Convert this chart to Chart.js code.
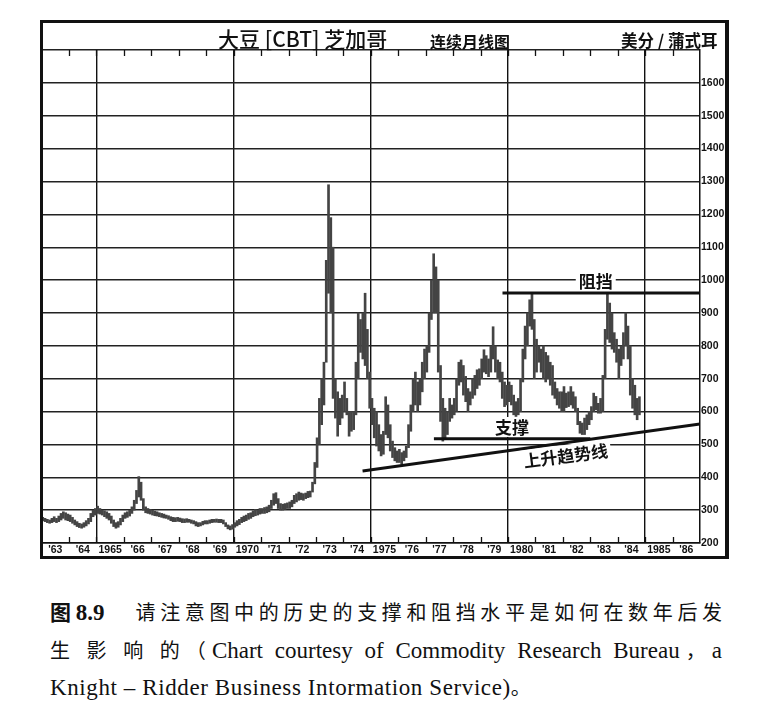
<!DOCTYPE html>
<html>
<head>
<meta charset="utf-8">
<script src="https://cdn.jsdelivr.net/npm/chart.js@4.4.1/dist/chart.umd.min.js"></script>
<style>
  body { margin: 0; background: #fff; width: 773px; height: 708px; position: relative; overflow: hidden; }
  #frame { position: absolute; left: 40px; top: 20px; width: 682px; height: 533px; border: 3px solid #111; border-right-width: 4px; }
  #c { position: absolute; left: 0; top: 0; }
  .t { position: absolute; font-family: "Noto Sans CJK SC", sans-serif; color: #111; white-space: nowrap; line-height: 1; }
  .cap { position: absolute; left: 50px; width: 672px; font-family: "Liberation Serif", "Noto Sans CJK SC", serif; font-size: 23px; color: #111; white-space: nowrap; }
  .cap.j { text-align: justify; text-align-last: justify; }
  .cap b { font-family: "Noto Sans CJK SC", sans-serif; font-size: 21px; }
  .zh { font-family: "Noto Sans CJK SC", sans-serif; font-size: 20px; }
</style>
</head>
<body>
<div id="frame">
  <canvas id="c" width="682" height="533"></canvas>
</div>
<div class="t" style="left:218px; top:28px; font-size:21px; font-weight:500;">大豆 [CBT] 芝加哥</div>
<div class="t" style="left:430px; top:33px; font-size:16px; font-weight:700;">连续月线图</div>
<div class="t" style="left:621px; top:32px; font-size:16.5px; font-weight:700;">美分 / 蒲式耳</div>

<div class="cap j" style="top:596px;"><b>图</b><span style="font-weight:700">8.9</span>&nbsp;&nbsp;&nbsp;<span class="zh">请注意图中的历史的支撑和阻挡水平是如何在数年后发</span></div>
<div class="cap j" style="top:635px;"><span class="zh">生 影 响 的（</span>Chart courtesy of Commodity Research Bureau<span class="zh">，</span>a</div>
<div class="cap" style="top:672px; letter-spacing:0.6px;">Knight – Ridder Business Intormation Service)<span class="zh">。</span></div>

<script>
// soybeans CBT, monthly high/low in cents, Jan 1963 - Oct 1984
const startYear = 1963;
const highs = [
  278,275,272,270,275,280,275,282,290,295,292,288,
  285,278,270,265,260,258,262,268,275,290,300,305,
  312,305,300,298,295,290,282,270,262,265,275,285,
  292,295,300,310,330,360,402,385,335,310,305,302,
  300,297,295,292,290,288,285,283,280,278,277,278,
  276,274,273,274,272,270,268,265,262,262,266,268,
  268,270,272,272,273,272,272,270,262,255,252,256,
  262,268,272,278,282,285,290,292,298,302,300,305,
  305,308,310,315,330,350,353,335,320,318,320,322,
  325,330,345,350,355,352,350,352,357,358,385,445,
  520,640,700,750,1060,1290,1190,1100,700,660,640,650,
  690,640,600,600,600,750,900,880,900,960,850,720,
  640,610,600,560,530,540,645,620,560,510,490,480,
  485,475,480,495,560,620,700,720,690,700,750,790,
  800,900,1000,1080,1040,1000,740,640,610,600,640,620,
  640,700,750,757,740,707,670,660,700,710,727,730,
  760,788,770,760,800,858,800,757,750,720,690,680,
  690,680,650,630,640,700,790,860,900,940,960,880,
  820,800,790,800,780,770,750,740,690,670,660,660,
  676,656,660,676,660,645,610,570,565,580,590,600,
  615,656,646,625,640,710,850,960,930,900,840,820,
  790,800,840,900,860,800,700,680,640,645
];
const lows = [
  268,265,262,260,262,265,262,265,270,275,270,268,
  265,260,255,250,247,245,248,252,258,265,280,285,
  290,288,285,280,275,270,260,250,245,248,255,265,
  275,278,282,290,300,320,340,330,300,292,290,288,
  285,283,282,280,278,276,275,272,268,265,265,266,
  265,262,262,263,263,260,258,252,250,252,255,258,
  258,260,262,263,263,262,262,258,250,243,240,242,
  248,252,256,262,265,268,272,275,280,283,285,288,
  290,290,292,295,305,315,320,305,300,300,302,305,
  305,310,320,325,330,332,330,335,338,340,355,380,
  430,500,560,620,750,960,900,640,580,525,560,580,
  600,590,525,540,545,590,700,780,760,740,700,610,
  560,520,495,480,465,470,530,520,480,460,450,445,
  445,440,450,460,490,540,600,620,600,620,660,700,
  720,780,880,900,900,720,570,510,520,530,570,580,
  590,600,680,690,650,630,600,620,640,650,670,680,
  700,720,715,706,720,760,720,700,690,640,615,620,
  630,620,590,585,590,600,690,760,800,860,850,700,
  720,750,720,700,690,700,680,650,640,620,610,600,
  600,612,615,620,610,600,560,534,530,530,545,560,
  575,600,605,595,595,600,700,820,810,790,780,750,
  700,740,760,800,760,650,610,590,575,590
];
const yearLabels = ["'63","'64","1965","'66","'67","'68","'69","1970","'71","'72","'73","'74",
  "1975","'76","'77","'78","'79","1980","'81","'82","'83","'84","1985","'86"];
const priceTicks = [200,300,400,500,600,700,800,900,1000,1100,1200,1300,1400,1500,1600];

// drawn lines: [year, cents]
const resistanceLine = [[1979.8, 961], [1987, 961]];
const supportLine = [[1977.3, 517], [1983.0, 517]];
const trendLine = [[1974.7, 419], [1987, 562]];

// labels: [text, year, cents]
const notes = [
  ['阻挡', 1983.2, 998],
  ['支撑', 1980.15, 553],
  ['上升趋势线', 1982.1, 468]
];

const bars = highs.map((h, i) => ({ x: startYear + (i + 0.5) / 12, y: [lows[i], h] }));
const toPts = arr => arr.map(p => ({ x: p[0], y: p[1] }));

const xTickVals = [];
for (let y = 1963; y <= 1987; y += 0.5) xTickVals.push(y);

const innerTicks = {
  id: 'innerTicks',
  afterDatasetsDraw(chart) {
    const { ctx, chartArea, scales } = chart;
    ctx.save();
    ctx.strokeStyle = '#111';
    ctx.lineWidth = 1.3;
    for (let y = 1964; y <= 1986; y++) {
      const px = Math.round(scales.x.getPixelForValue(y)) + 0.5;
      ctx.beginPath();
      ctx.moveTo(px, chartArea.bottom); ctx.lineTo(px, chartArea.bottom - 6);
      ctx.moveTo(px, chartArea.top); ctx.lineTo(px, chartArea.top + 6);
      ctx.stroke();
    }
    // notes
    ctx.textAlign = 'center';
    ctx.textBaseline = 'middle';
    notes.forEach(([txt, yr, val], k) => {
      const px = scales.x.getPixelForValue(yr);
      const py = scales.y.getPixelForValue(val);
      ctx.save();
      ctx.translate(px, py);
      if (k === 2) ctx.rotate(-0.13);
      ctx.font = '700 17px "Noto Sans CJK SC"';
      const w = ctx.measureText(txt).width;
      ctx.fillStyle = '#fff';
      ctx.fillRect(-w / 2 - 3, -10, w + 6, 20);
      ctx.fillStyle = '#111';
      ctx.fillText(txt, 0, 1);
      ctx.restore();
    });
    ctx.restore();
  }
};

const ctx = document.getElementById('c').getContext('2d');
const lineStyle = { type: 'line', borderColor: '#111', borderWidth: 3, pointRadius: 0, fill: false };
const chart = new Chart(ctx, {
  type: 'bar',
  data: {
    datasets: [
      { ...lineStyle, data: toPts(resistanceLine), order: 0 },
      { ...lineStyle, data: toPts(supportLine), order: 0 },
      { ...lineStyle, data: toPts(trendLine), order: 0 },
      { type: 'bar', data: bars, backgroundColor: '#444', barThickness: 2, order: 1 }
    ]
  },
  options: {
    responsive: false,
    animation: false,
    layout: { padding: { top: 27, left: 0, right: 0, bottom: 0 } },
    plugins: { legend: { display: false }, tooltip: { enabled: false } },
    scales: {
      x: {
        type: 'linear',
        min: 1963.05,
        max: 1987,
        offset: false,
        afterBuildTicks: s => { s.ticks = xTickVals.filter(v => v >= s.min && v <= s.max).map(v => ({ value: v })); },
        afterFit: s => { s.height = 13; },
        ticks: {
          autoSkip: false,
          maxRotation: 0,
          padding: 1,
          color: '#111',
          font: { family: 'Liberation Sans', size: 10.5, weight: 'bold' },
          callback: v => (v % 1 === 0.5 ? yearLabels[Math.floor(v) - startYear] : '')
        },
        grid: {
          offset: false,
          drawTicks: false,
          lineWidth: 1.4,
          color: c => (c.tick && c.tick.value % 5 === 0 ? '#111' : 'rgba(0,0,0,0)')
        },
        border: { display: true, color: '#111', width: 1.5 }
      },
      y: {
        position: 'right',
        min: 200,
        max: 1700,
        afterBuildTicks: s => { s.ticks = priceTicks.concat([1700]).map(v => ({ value: v })); },
        afterFit: s => { s.width = 25; },
        ticks: {
          padding: 1,
          color: '#111',
          font: { family: 'Liberation Sans', size: 10.5, weight: 'bold' },
          callback: v => (priceTicks.includes(v) ? v : '')
        },
        grid: { drawTicks: false, lineWidth: 1.4, color: '#222' },
        border: { display: true, color: '#111', width: 1.5 }
      }
    }
  },
  plugins: [innerTicks]
});
</script>
</body>
</html>
